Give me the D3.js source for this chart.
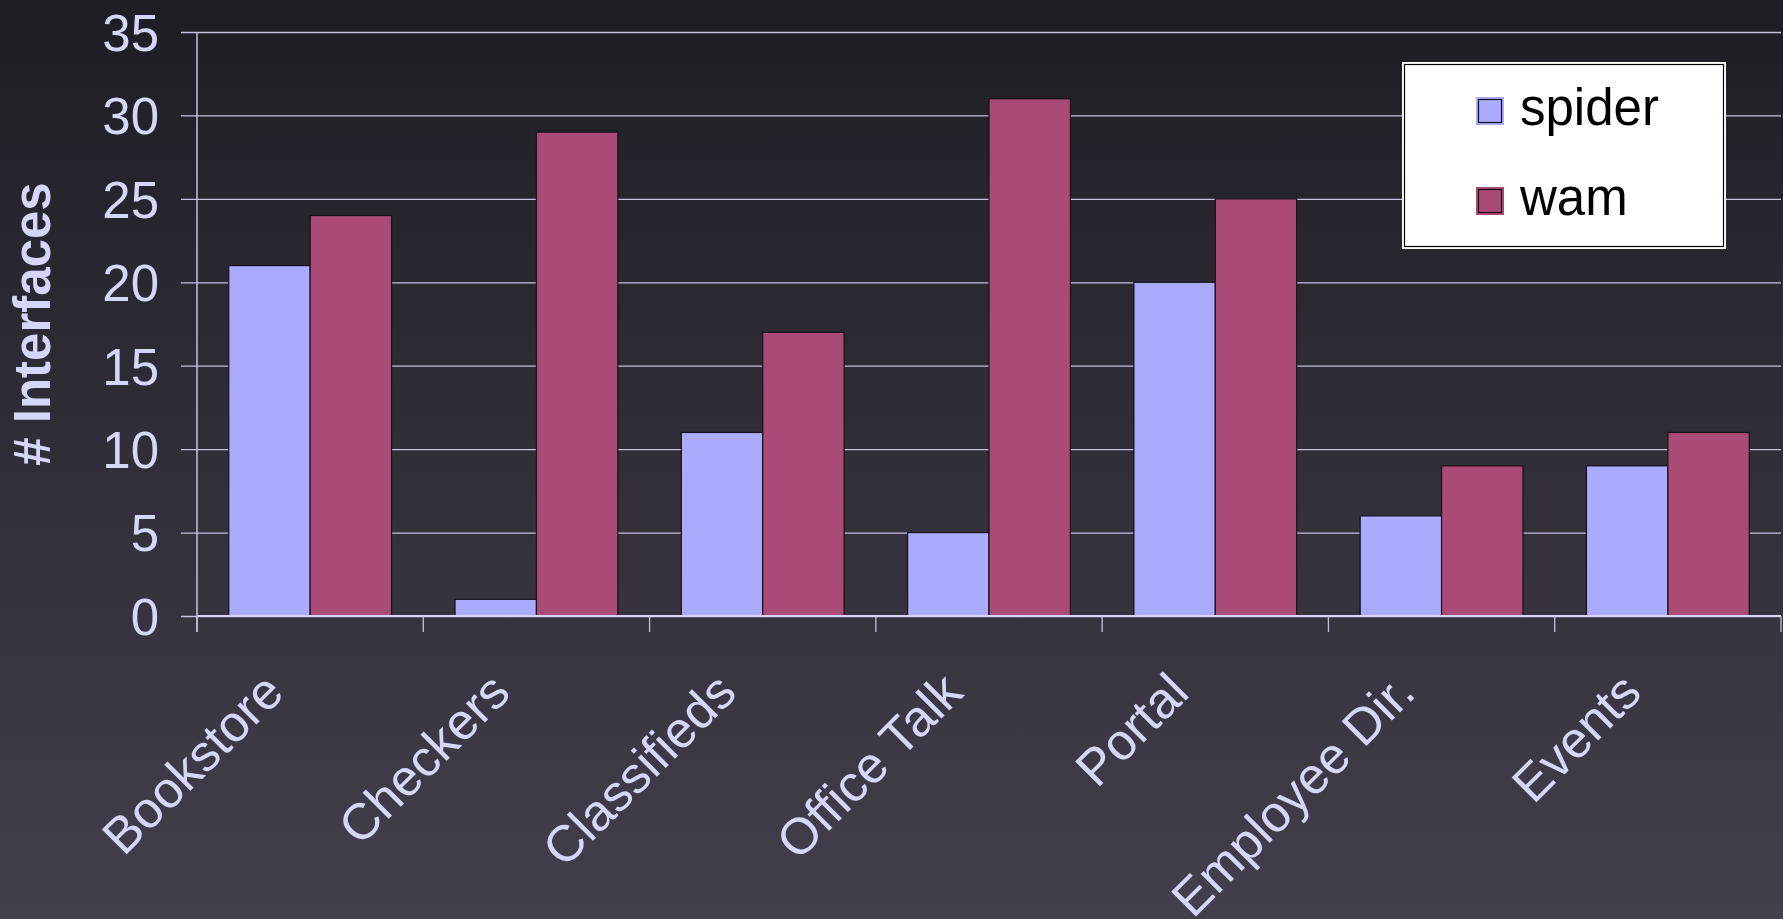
<!DOCTYPE html>
<html>
<head>
<meta charset="utf-8">
<script src="https://cdn.jsdelivr.net/npm/d3@7"></script>
<style>
  html, body { margin: 0; padding: 0; overflow: hidden; }
  text { font-family: Arial, "Liberation Sans", sans-serif; }
</style>
</head>
<body>
<div class="chart-holder"></div>
<script>
const categories = ["Bookstore", "Checkers", "Classifieds", "Office Talk", "Portal", "Employee Dir.", "Events"];
const spider = [21, 1, 11, 5, 20, 6, 9];
const wam = [24, 29, 17, 31, 25, 9, 11];
const seriesNames = ["spider", "wam"];
const yTicks = [0, 5, 10, 15, 20, 25, 30, 35];

const width = 1783, height = 919;
const plotLeft = 197, plotRight = 1781, plotTop = 32, plotBottom = 616;
const colors = { spider: "#aaaaff", wam: "#aa4a77" };
const labelColor = "#d6d6fa";
const gridColor = "#c6c2de";
const fontSize = 51;

const svg = d3.select(".chart-holder").append("svg")
  .attr("width", width).attr("height", height);

const grad = svg.append("defs").append("linearGradient")
  .attr("id", "bg").attr("x1", 0).attr("y1", 0).attr("x2", 0).attr("y2", 1);
grad.append("stop").attr("offset", 0).attr("stop-color", "#1e1d24");
grad.append("stop").attr("offset", 1).attr("stop-color", "#433f4c");
svg.append("rect").attr("width", width).attr("height", height).attr("fill", "url(#bg)");

const x = d3.scaleBand().domain(categories).range([plotLeft, plotRight]).paddingInner(0).paddingOuter(0);
const x1 = d3.scaleBand().domain(seriesNames).range([0, x.bandwidth()]).paddingOuter(0.39).paddingInner(0);
const y = d3.scaleLinear().domain([0, 35]).range([plotBottom, plotTop]);

// gridlines + y ticks
const yAxis = d3.axisLeft(y).tickValues(yTicks).tickSize(-(plotRight - plotLeft)).tickFormat(d => d).tickPadding(38);
const yG = svg.append("g").attr("transform", `translate(${plotLeft},0)`).call(yAxis);
yG.select(".domain").remove();
yG.selectAll(".tick line").attr("stroke", gridColor).attr("stroke-width", 1.3).attr("x1", -16);
yG.selectAll(".tick text").attr("fill", labelColor).attr("font-size", fontSize)
  .attr("font-family", "Arial, 'Liberation Sans', sans-serif").attr("dy", "0.36em");

// bars
const data = categories.map((c, i) => ({ cat: c, vals: [{ k: "spider", v: spider[i] }, { k: "wam", v: wam[i] }] }));
const groups = svg.append("g").selectAll("g").data(data).enter().append("g")
  .attr("transform", d => `translate(${x(d.cat)},0)`);
groups.selectAll("rect").data(d => d.vals).enter().append("rect")
  .attr("x", d => x1(d.k))
  .attr("y", d => y(d.v))
  .attr("width", x1.bandwidth())
  .attr("height", d => y(0) - y(d.v))
  .attr("fill", d => colors[d.k])
  .attr("stroke", "#151218")
  .attr("stroke-width", 1.2);

// x axis
svg.append("line").attr("x1", plotLeft).attr("x2", plotRight).attr("y1", y(0)).attr("y2", y(0))
  .attr("stroke", "#d8d6f4").attr("stroke-width", 2);
const boundaries = categories.map(c => x(c)).concat([plotRight]);
svg.append("g").selectAll("line").data(boundaries).enter().append("line")
  .attr("x1", d => d).attr("x2", d => d).attr("y1", y(0)).attr("y2", y(0) + 16)
  .attr("stroke", gridColor).attr("stroke-width", 1.3);
svg.append("line").attr("x1", plotLeft).attr("x2", plotLeft).attr("y1", plotTop).attr("y2", y(0) + 16)
  .attr("stroke", gridColor).attr("stroke-width", 1.5);

svg.append("g").selectAll("text").data(categories).enter().append("text")
  .attr("transform", d => `translate(${x(d) + x.bandwidth() / 2 - 24},${695}) rotate(-45)`)
  .attr("text-anchor", "end")
  .attr("fill", labelColor)
  .attr("font-size", fontSize)
  .text(d => d);

// y axis title
svg.append("text")
  .attr("transform", `translate(${50},${324}) rotate(-90)`)
  .attr("text-anchor", "middle")
  .attr("fill", labelColor)
  .attr("font-size", fontSize)
  .attr("font-weight", "bold")
  .text("# Interfaces");

// legend
const lg = svg.append("g");
lg.append("rect").attr("x", 1402).attr("y", 62).attr("width", 324).attr("height", 187).attr("fill", "#ffffff");
lg.append("rect").attr("x", 1404.5).attr("y", 64.5).attr("width", 319).attr("height", 182)
  .attr("fill", "none").attr("stroke", "#000").attr("stroke-width", 1.2);
const items = lg.selectAll("g.item").data(seriesNames).enter().append("g")
  .attr("transform", (d, i) => `translate(1476,${97 + i * 90})`);
items.append("rect").attr("width", 28).attr("height", 28).attr("fill", d => colors[d]);
items.append("rect").attr("x", 2.5).attr("y", 2.5).attr("width", 23).attr("height", 23)
  .attr("fill", "none").attr("stroke", "#111").attr("stroke-width", 1.2);
items.append("text").attr("x", 44).attr("y", 28).attr("fill", "#000").attr("font-size", fontSize).text(d => d);
</script>
</body>
</html>
